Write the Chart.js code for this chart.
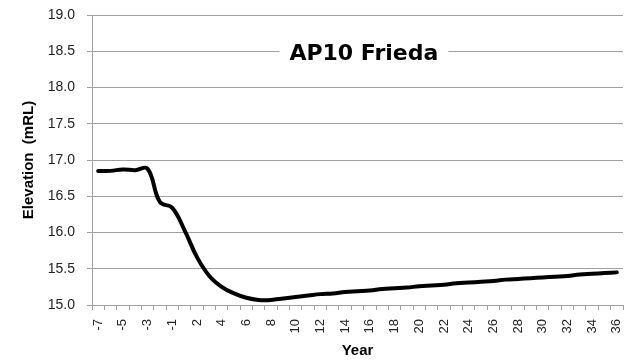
<!DOCTYPE html>
<html>
<head>
<meta charset="utf-8">
<script src="https://cdn.jsdelivr.net/npm/chart.js@4.4.1/dist/chart.umd.min.js"></script>
<style>
  html, body { margin: 0; padding: 0; background: #fff; }
  #wrap { width: 634px; height: 362px; position: relative; }
</style>
</head>
<body>
<div id="wrap"><canvas id="elevChart"></canvas></div>
<script>
// Years (no year 0 in the record)
const years = [-7, -6, -5, -4, -3, -2, -1, 1, 2, 3, 4, 5, 6, 7, 8, 9, 10, 11, 12, 13, 14,
  15, 16, 17, 18, 19, 20, 21, 22, 23, 24, 25, 26, 27, 28, 29, 30, 31, 32, 33, 34, 35, 36];

// Elevation (mRL)
const elevation = [16.85, 16.85, 16.87, 16.86, 16.88, 16.42, 16.34, 16.03, 15.66, 15.40,
  15.25, 15.16, 15.10, 15.07, 15.07, 15.09, 15.11, 15.13, 15.15, 15.16, 15.18,
  15.19, 15.20, 15.22, 15.23, 15.24, 15.26, 15.27, 15.28, 15.30, 15.31, 15.32,
  15.33, 15.35, 15.36, 15.37, 15.38, 15.39, 15.40, 15.42, 15.43, 15.44, 15.45];

const yTicks = [15.0, 15.5, 16.0, 16.5, 17.0, 17.5, 18.0, 18.5, 19.0];
const chartTitle = 'AP10 Frieda';

const axisGray = '#a0a0a0';

// Draws the title inside the plot, on a white box over the gridline
const insideTitle = {
  id: 'insideTitle',
  afterDraw(chart) {
    const { ctx, chartArea } = chart;
    const cx = chartArea.left + (chartArea.right - chartArea.left) * 0.512;
    const cy = chartArea.top + (chartArea.bottom - chartArea.top) * 0.133;
    ctx.save();
    ctx.font = 'bold 22px "DejaVu Sans"';
    const w = ctx.measureText(chartTitle).width + 20;
    ctx.fillStyle = '#fff';
    ctx.fillRect(cx - w / 2, cy - 14, w, 28);
    ctx.fillStyle = '#000';
    ctx.textAlign = 'center';
    ctx.textBaseline = 'middle';
    ctx.fillText(chartTitle, cx, cy + 1);
    ctx.restore();
  },
};

new Chart(document.getElementById('elevChart').getContext('2d'), {
  type: 'line',
  data: {
    labels: years.map(String),
    datasets: [
      {
        label: 'Elevation',
        data: elevation,
        borderColor: '#000',
        borderWidth: 4,
        borderCapStyle: 'round',
        pointRadius: 0,
        tension: 0.4,
        fill: false,
      },
    ],
  },
  options: {
    responsive: true,
    maintainAspectRatio: false,
    animation: false,
    layout: {
      padding: { left: 20, right: 11, top: 15, bottom: 0 },
    },
    scales: {
      x: {
        type: 'category',
        offset: true,
        grid: {
          offset: true,
          drawOnChartArea: false,
          drawTicks: true,
          tickLength: 5,
          color: axisGray,
        },
        border: { color: axisGray, width: 1 },
        ticks: {
          autoSkip: false,
          maxRotation: 90,
          minRotation: 90,
          padding: 9,
          color: '#222',
          font: { family: '"Liberation Sans"', size: 13 },
          callback: function (value, index) {
            return index % 2 === 0 ? years[index] : '';
          },
        },
        title: {
          display: true,
          text: 'Year',
          color: '#000',
          padding: { top: 2, bottom: 2 },
          font: { family: '"Liberation Sans"', size: 15, weight: 'bold' },
        },
        afterFit: function (scale) {
          scale.height = 57;
          scale.paddingLeft = 0;
          scale.paddingRight = 0;
        },
      },
      y: {
        min: 15,
        max: 19,
        afterBuildTicks: function (scale) {
          scale.ticks = yTicks.map((v) => ({ value: v }));
        },
        grid: {
          color: axisGray,
          tickLength: 5,
        },
        border: { color: axisGray, width: 1 },
        ticks: {
          padding: 12,
          color: '#222',
          font: { family: '"Liberation Sans"', size: 14 },
          callback: function (value) {
            return Number(value).toFixed(1);
          },
        },
        title: {
          display: true,
          text: 'Elevation  (mRL)',
          color: '#000',
          padding: 0,
          font: { family: '"Liberation Sans"', size: 15, weight: 'bold' },
        },
        afterFit: function (scale) {
          scale.width = 72;
          scale.paddingTop = 0;
          scale.paddingBottom = 0;
        },
      },
    },
    plugins: {
      legend: { display: false },
      tooltip: { enabled: false },
    },
  },
  plugins: [insideTitle],
});
</script>
</body>
</html>
